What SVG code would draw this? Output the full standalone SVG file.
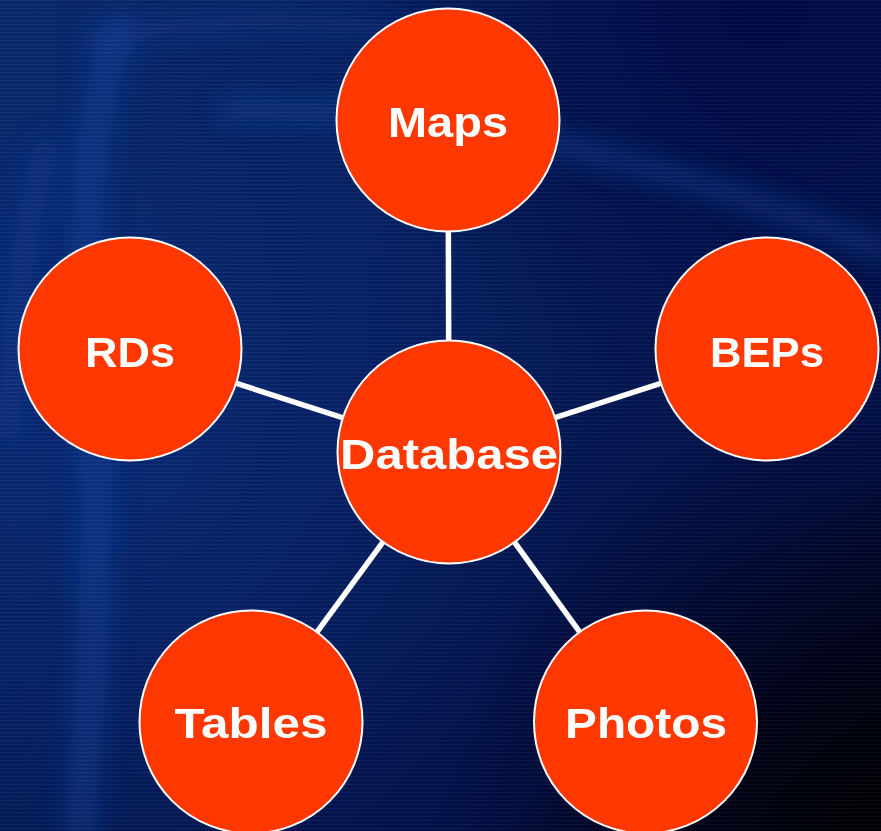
<svg xmlns="http://www.w3.org/2000/svg" width="881" height="831" viewBox="0 0 881 831">
  <defs>
    <linearGradient id="bgBase" x1="0" y1="0" x2="1" y2="1">
      <stop offset="0" stop-color="#09286c"/>
      <stop offset="0.45" stop-color="#061c58"/>
      <stop offset="0.78" stop-color="#031046"/>
      <stop offset="1" stop-color="#000006"/>
    </linearGradient>
    <radialGradient id="glowLeft" cx="110" cy="430" r="480" gradientUnits="userSpaceOnUse">
      <stop offset="0" stop-color="#0c3388" stop-opacity="0.55"/>
      <stop offset="1" stop-color="#0c3388" stop-opacity="0"/>
    </radialGradient>
    <radialGradient id="darkTopRight" cx="760" cy="0" r="420" gradientUnits="userSpaceOnUse">
      <stop offset="0" stop-color="#000640" stop-opacity="0.9"/>
      <stop offset="1" stop-color="#000640" stop-opacity="0"/>
    </radialGradient>
    <radialGradient id="darkBottomRight" cx="881" cy="831" r="430" gradientUnits="userSpaceOnUse">
      <stop offset="0" stop-color="#000000" stop-opacity="1"/>
      <stop offset="0.5" stop-color="#000010" stop-opacity="0.6"/>
      <stop offset="1" stop-color="#000010" stop-opacity="0"/>
    </radialGradient>
    <filter id="soft" x="-20%" y="-20%" width="140%" height="140%">
      <feGaussianBlur stdDeviation="13"/>
    </filter>
    <pattern id="scan" width="881" height="4" patternUnits="userSpaceOnUse">
      <rect x="0" y="0" width="881" height="1" fill="#5a86e0" opacity="0.1"/>
      <rect x="0" y="2" width="881" height="1" fill="#000010" opacity="0.12"/>
    </pattern>
    <style>
      .node circle { fill: #ff3700; stroke: #ffffff; stroke-width: 2; }
      .node text { fill: #ffffff; font-family: "Liberation Sans", Arial, sans-serif; font-weight: bold; font-size: 43px; text-anchor: middle; }
      .edges line { stroke: #ffffff; stroke-width: 5.5; }
    </style>
  </defs>

  <!-- backdrop -->
  <g id="background">
    <rect width="881" height="831" fill="url(#bgBase)"/>
    <rect width="881" height="831" fill="url(#glowLeft)"/>
    <rect width="881" height="831" fill="url(#darkTopRight)"/>
    <g filter="url(#soft)" fill="none" stroke="#1d50b0" stroke-linecap="round">
      <path d="M120 30 Q70 160 95 420 Q100 600 80 831" stroke-width="30" opacity="0.4"/>
      <path d="M45 150 Q15 260 10 430" stroke-width="24" opacity="0.3"/>
      <path d="M90 40 Q240 10 400 30" stroke-width="20" opacity="0.25"/>
      <path d="M230 110 Q420 110 580 150 Q740 190 881 250" stroke-width="22" opacity="0.38"/>
    </g>
    <rect width="881" height="831" fill="url(#darkBottomRight)"/>
    <rect width="881" height="831" fill="url(#scan)"/>
  </g>

  <!-- spokes from the hub to each outer node -->
  <g id="edges" class="edges">
    <line x1="449" y1="452" x2="448" y2="120"/>
    <line x1="449" y1="452" x2="130" y2="349"/>
    <line x1="449" y1="452" x2="767" y2="349"/>
    <line x1="449" y1="452" x2="251" y2="722"/>
    <line x1="449" y1="452" x2="645" y2="722"/>
  </g>

  <g id="node-maps" class="node">
    <circle cx="448" cy="120" r="111.5"/>
    <text x="448" y="137" textLength="120" lengthAdjust="spacingAndGlyphs">Maps</text>
  </g>
  <g id="node-rds" class="node">
    <circle cx="130" cy="349" r="111.5"/>
    <text x="130" y="367" textLength="90" lengthAdjust="spacingAndGlyphs">RDs</text>
  </g>
  <g id="node-beps" class="node">
    <circle cx="767" cy="349" r="111.5"/>
    <text x="767" y="367" textLength="114" lengthAdjust="spacingAndGlyphs">BEPs</text>
  </g>
  <g id="node-database" class="node">
    <circle cx="449" cy="452" r="111.5"/>
    <text x="449" y="469" textLength="218" lengthAdjust="spacingAndGlyphs" style="font-size:42px">Database</text>
  </g>
  <g id="node-tables" class="node">
    <circle cx="251" cy="722" r="111.5"/>
    <text x="251" y="738" textLength="153" lengthAdjust="spacingAndGlyphs">Tables</text>
  </g>
  <g id="node-photos" class="node">
    <circle cx="645.5" cy="722" r="111.5"/>
    <text x="646" y="738" textLength="162" lengthAdjust="spacingAndGlyphs">Photos</text>
  </g>
</svg>
